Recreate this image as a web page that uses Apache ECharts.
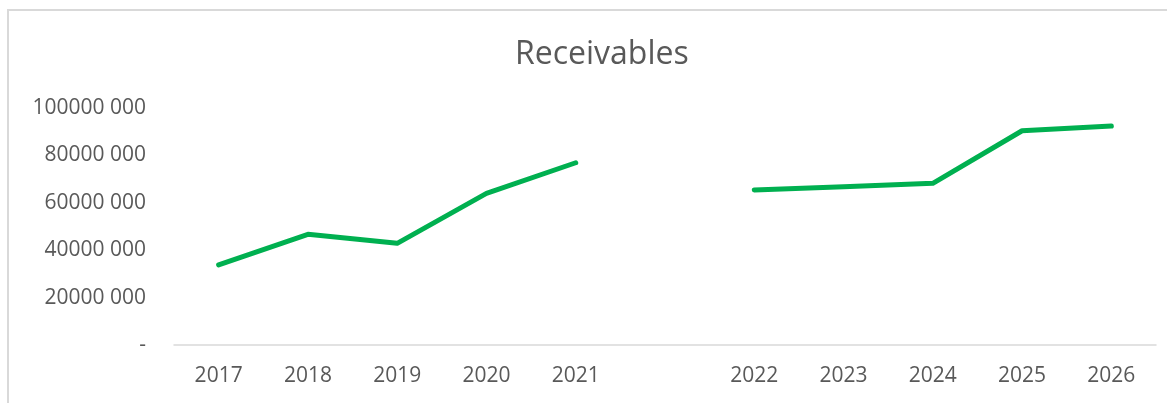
<!DOCTYPE html>
<html>
<head>
<meta charset="utf-8">
<script src="https://cdn.jsdelivr.net/npm/echarts@6/dist/echarts.min.js"></script>
<style>
    html, body { margin: 0; padding: 0; background: #FFFFFF; }
    #chartReceivables { width: 1167px; height: 403px; }
</style>
</head>
<body>
<div id="chartReceivables"></div>
<script>
// data; the empty category is the gap between 2021 and 2022
var years = ['2017', '2018', '2019', '2020', '2021', '', '2022', '2023', '2024', '2025', '2026'];
var receivables = [33800000, 46700000, 42900000, 64000000, 76900000, null, 65400000, 66800000, 68200000, 90400000, 92400000];
var yTicks = [0, 20000000, 40000000, 60000000, 80000000, 100000000];

function renderReceivables() {
    var dom = document.getElementById('chartReceivables');
    var myChart = echarts.init(dom);

    var option = {
        backgroundColor: '#FFFFFF',
        animation: false,
        title: {
            text: 'Receivables',
            left: 510,
            top: 34,
            textStyle: {
                fontFamily: 'Open Sans',
                fontSize: 32,
                fontWeight: 'normal',
                color: '#595959'
            }
        },
        graphic: [{
            type: 'rect',
            shape: { x: 8, y: 10, width: 1200, height: 450 },
            style: { fill: 'none', stroke: '#D9D9D9', lineWidth: 2 },
            silent: true
        }],
        grid: {
            top: 108,
            bottom: 58,
            left: 174,
            right: 11
        },
        xAxis: {
            type: 'category',
            data: years,
            boundaryGap: true,
            axisLine: { lineStyle: { color: '#D9D9D9', width: 1.5 } },
            axisTick: { show: false },
            axisLabel: {
                margin: 21,
                fontFamily: 'Open Sans',
                fontSize: 21,
                color: '#595959'
            }
        },
        yAxis: {
            type: 'value',
            min: yTicks[0],
            max: yTicks[yTicks.length - 1],
            interval: yTicks[1] - yTicks[0],
            splitLine: { show: false },
            axisLine: { show: false },
            axisTick: { show: false },
            axisLabel: {
                margin: 28,
                fontFamily: 'Open Sans',
                fontSize: 21,
                color: '#595959',
                formatter: function(v) {
                    return v === 0 ? '-' : (v / 1000) + ' 000';
                }
            }
        },
        series: [{
            type: 'line',
            data: receivables,
            connectNulls: false,
            showSymbol: false,
            symbol: 'none',
            lineStyle: { color: '#00B050', width: 5, cap: 'round', join: 'round' }
        }]
    };

    myChart.setOption(option);
}
renderReceivables();
</script>
</body>
</html>
